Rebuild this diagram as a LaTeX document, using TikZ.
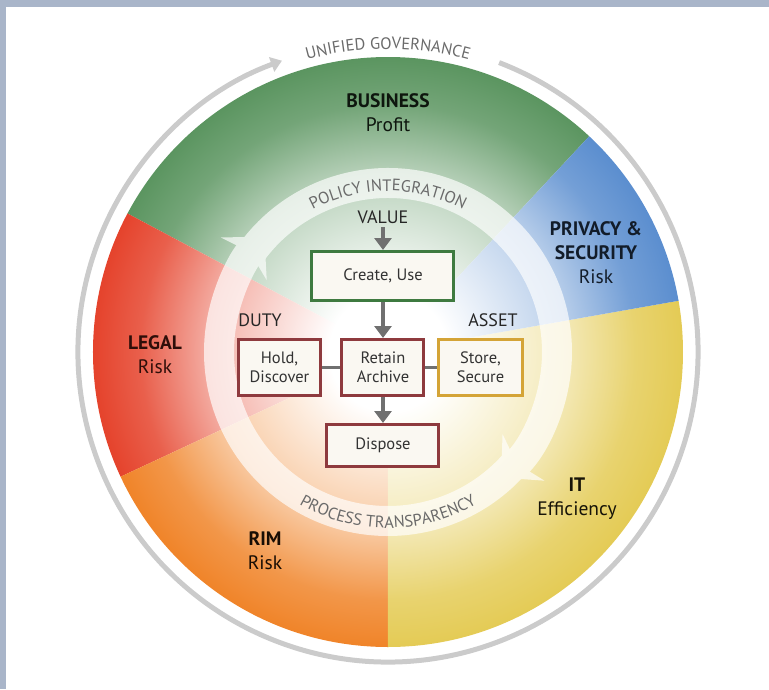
\documentclass[tikz,border=0pt]{standalone}
\usepackage{fontspec}
\setmainfont{PT Sans}
\usetikzlibrary{arrows.meta,decorations.text}

\definecolor{bizgreen}{HTML}{5B9560}
\definecolor{privblue}{HTML}{5B8ECF}
\definecolor{itgold}{HTML}{E4CB55}
\definecolor{rimorange}{HTML}{F08429}
\definecolor{legalred}{HTML}{E5432C}
\definecolor{framegray}{HTML}{A9B5C9}
\definecolor{ringgray}{HTML}{CBCBCB}
\definecolor{wordgray}{HTML}{6A6A6A}
\definecolor{arrowgray}{HTML}{707070}
\definecolor{boxgreen}{HTML}{3E7A40}
\definecolor{boxred}{HTML}{8E3A3E}
\definecolor{boxgold}{HTML}{D4A437}
\definecolor{boxfill}{HTML}{FAF8F2}

% radial fade from white centre to full colour at the rim
\newcommand{\fadeshading}[2]{%
  \colorlet{#2mid}{#2!42}\colorlet{#2deep}{#2!85}%
  \pgfdeclareradialshading{#1}{\pgfpoint{0bp}{0bp}}{color(0bp)=(white); color(5bp)=(white);
    color(15bp)=(#2mid); color(21bp)=(#2deep); color(25bp)=(#2); color(50bp)=(#2)}}
\fadeshading{greenfade}{bizgreen}
\fadeshading{bluefade}{privblue}
\fadeshading{goldfade}{itgold}
\fadeshading{orangefade}{rimorange}
\fadeshading{redfade}{legalred}

\newcommand{\sector}[3]{%
  \begin{scope}
    \clip (0,0) -- (#2:305) arc[start angle=#2, end angle=#3, radius=305] -- cycle;
    \shade[shading=#1] (0,0) circle (295);
  \end{scope}}

\newcommand{\arcfont}{\fontsize{16.5}{16.5}\selectfont}

\tikzset{
    every node/.style={align=center,},
    area/.style={font=\fontsize{19.5}{24}\selectfont,},
    tag/.style={font=\fontsize{18}{20}\selectfont, text=black!85,},
    stage/.style={draw,rectangle,line width=3pt,fill=boxfill,text=black!80,
        font=\fontsize{16.5}{19}\selectfont,inner sep=0pt,},
    flow/.style={draw=arrowgray,line width=4pt,-{Triangle[width=17pt,length=12pt]},},
    link/.style={draw=arrowgray,line width=3pt,},
    ring/.style={draw=ringgray,line width=5pt,-{Triangle[width=15pt,length=11pt]},},
    band/.style={draw=white,line width=30pt,-{Stealth[width=62pt,length=30pt,inset=9pt]},},
}

\begin{document}
\begin{tikzpicture}[x=1pt,y=1pt]
    \useasboundingbox (-388,-337) rectangle (381,352);
    % frame
    \fill[framegray] (-388,345) rectangle (381,352);
    \fill[framegray] (-388,-337) rectangle (-382,352);

    % pie
    \sector{greenfade}{47}{152}
    \sector{redfade}{152}{205}
    \sector{orangefade}{205}{270}
    \sector{goldfade}{270}{370}
    \sector{bluefade}{10}{47}

    % outer ring
    \draw[ring] (69:310) arc[start angle=69, end angle=-250, radius=310];
    \path[decorate,decoration={text along path,text align=center,text color=wordgray,
        text={|\arcfont|UNIFIED GOVERNANCE}}]
        (125:303) arc[start angle=125, end angle=55, radius=303];

    % inner band
    \begin{scope}[transparency group,opacity=0.68]
        \draw[band] (145:169) arc[start angle=145, end angle=-48, radius=169];
        \draw[band] (-40:169) arc[start angle=-40, end angle=-223, radius=169];
    \end{scope}
    \path[decorate,decoration={text along path,text align=center,text color=wordgray,
        text={|\arcfont|POLICY INTEGRATION}}]
        (132:161) arc[start angle=132, end angle=48, radius=161];
    \path[decorate,decoration={text along path,text align=center,text color=wordgray,
        text={|\arcfont|PROCESS TRANSPARENCY}}]
        (226:176) arc[start angle=226, end angle=314, radius=176];

    % areas
    \node[area,text=black!85!bizgreen] (business) at (0,239) {\textbf{BUSINESS}\\Profit};
    \node[area,text=black!80!privblue] (privacy) at (208,99) {\textbf{PRIVACY \&}\\\textbf{SECURITY}\\Risk};
    \node[area,text=black!80!legalred] (legal) at (-233,-3) {\textbf{LEGAL}\\Risk};
    \node[area,text=black!90!rimorange] (rim) at (-123,-199) {\textbf{RIM}\\Risk};
    \node[area,text=black!90!itgold] (it) at (189,-147) {\textbf{IT}\\Efficiency};

    % lifecycle
    \node[tag] (value) at (-5,135) {VALUE};
    \node[tag] (duty) at (-128,32) {DUTY};
    \node[tag] (asset) at (105,32) {ASSET};

    \node[stage,draw=boxgreen,minimum width=142pt,minimum height=49pt] (create) at (-5,76) {Create, Use};
    \node[stage,draw=boxred,minimum width=82pt,minimum height=56pt] (retain) at (-5,-15.5) {Retain\\Archive};
    \node[stage,draw=boxred,minimum width=82pt,minimum height=56pt] (hold) at (-108.5,-15.5) {Hold,\\Discover};
    \node[stage,draw=boxgold,minimum width=84pt,minimum height=56pt] (store) at (92.5,-15.5) {Store,\\Secure};
    \node[stage,draw=boxred,minimum width=112pt,minimum height=42pt] (dispose) at (-5,-93.5) {Dispose};

    \draw[flow] (value) to (create);
    \draw[flow] (create) to (retain);
    \draw[flow] (retain) to (dispose);
    \draw[link] (hold) to (retain);
    \draw[link] (retain) to (store);
\end{tikzpicture}
\end{document}
